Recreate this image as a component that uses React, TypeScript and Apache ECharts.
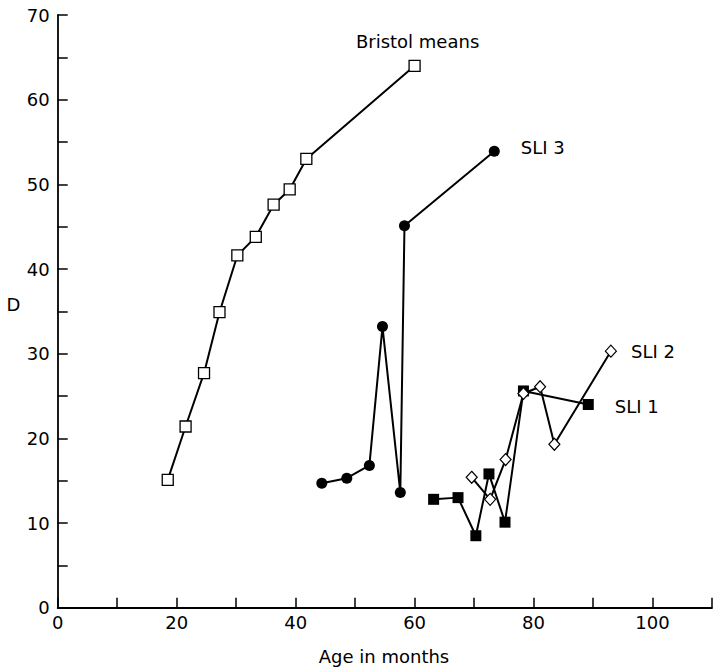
import React, { useEffect, useRef } from "react";
import * as echarts from "echarts";

const bristolAge = [18.5, 21.5, 24.6, 27.2, 30.2, 33.3, 36.3, 39.0, 41.8, 60.0];
const bristolD = [15.1, 21.4, 27.7, 34.9, 41.6, 43.8, 47.6, 49.4, 53.0, 64.0];

const sli3Age = [44.4, 48.6, 52.4, 54.6, 57.6, 58.3, 73.4];
const sli3D = [14.7, 15.3, 16.8, 33.2, 13.6, 45.1, 53.9];

const sli1Age = [63.2, 67.3, 70.3, 72.5, 75.2, 78.3, 89.2];
const sli1D = [12.8, 13.0, 8.5, 15.8, 10.1, 25.6, 24.0];

const sli2Age = [69.6, 72.7, 75.3, 78.3, 81.1, 83.5, 93.0];
const sli2D = [15.4, 12.8, 17.5, 25.3, 26.1, 19.3, 30.3];

const seriesNames = ["Bristol means", "SLI 3", "SLI 1", "SLI 2"];
const xTickLabels = [0, 20, 40, 60, 80, 100];
const yTickLabels = [0, 10, 20, 30, 40, 50, 60, 70];

const FONT = "'DejaVu Sans', 'Liberation Sans', Arial, sans-serif";
const FS = 18;

function build(
  ages: number[],
  ds: number[],
  name: string,
  labelPos: any,
  labelDist: number,
  labelOffset: number[]
) {
  return ages.map((a, i) => {
    const item: any = { value: [a, ds[i]] };
    if (i === ages.length - 1) {
      item.label = {
        show: true,
        position: labelPos,
        distance: labelDist,
        offset: labelOffset,
        formatter: name,
        color: "#000",
        fontFamily: FONT,
        fontSize: FS,
      };
    }
    return item;
  });
}

export default function App() {
  const ref = useRef<HTMLDivElement>(null);
  useEffect(() => {
    if (!ref.current) return;
    const chart = echarts.init(ref.current, undefined, { renderer: "svg" });
    const lineStyle = { color: "#000", width: 2 };
    chart.setOption({
      animation: false,
      backgroundColor: "#fff",
      grid: { left: 57.7, top: 15, width: 661.8, height: 592.7, containLabel: false },
      xAxis: {
        type: "value",
        min: 0,
        max: 110,
        interval: 10,
        axisLine: { show: true, lineStyle: { color: "#000", width: 1.8 } },
        axisTick: { show: true, inside: true, length: 10, lineStyle: { color: "#000", width: 1.5 } },
        splitLine: { show: false },
        axisLabel: {
          color: "#000",
          fontFamily: FONT,
          fontSize: FS,
          margin: 6,
          formatter: (v: number) => (xTickLabels.indexOf(v) >= 0 ? String(v) : ""),
        },
      },
      yAxis: {
        type: "value",
        min: 0,
        max: 70,
        interval: 5,
        axisLine: { show: true, lineStyle: { color: "#000", width: 1.8 } },
        axisTick: { show: true, inside: true, length: 10, lineStyle: { color: "#000", width: 1.5 } },
        splitLine: { show: false },
        axisLabel: {
          color: "#000",
          fontFamily: FONT,
          fontSize: FS,
          margin: 8,
          formatter: (v: number) => (yTickLabels.indexOf(v) >= 0 ? String(v) : ""),
        },
      },
      graphic: [
        {
          type: "text",
          left: 6.5,
          top: 295,
          style: { text: "D", fill: "#000", font: `${FS}px ${FONT}` },
        },
        {
          type: "text",
          x: 384,
          y: 656,
          style: {
            text: "Age in months",
            fill: "#000",
            font: `${FS}px ${FONT}`,
            textAlign: "center",
            textVerticalAlign: "middle",
          },
        },
      ],
      series: [
        {
          name: seriesNames[0],
          type: "line",
          data: build(bristolAge, bristolD, seriesNames[0], "top", 9, [3, 0]),
          symbol: "rect",
          symbolSize: 11,
          lineStyle,
          itemStyle: { color: "#fff", borderColor: "#000", borderWidth: 1.3 },
          z: 3,
        },
        {
          name: seriesNames[1],
          type: "line",
          data: build(sli3Age, sli3D, seriesNames[1], "right", 21, [0, -4]),
          symbol: "circle",
          symbolSize: 11,
          lineStyle,
          itemStyle: { color: "#000", borderColor: "#000", borderWidth: 0 },
          z: 3,
        },
        {
          name: seriesNames[2],
          type: "line",
          data: build(sli1Age, sli1D, seriesNames[2], "right", 21, [0, 2]),
          symbol: "rect",
          symbolSize: 11,
          lineStyle,
          itemStyle: { color: "#000", borderColor: "#000", borderWidth: 0 },
          z: 3,
        },
        {
          name: seriesNames[3],
          type: "line",
          data: build(sli2Age, sli2D, seriesNames[3], "right", 14, [0, 0]),
          symbol: "diamond",
          symbolSize: [11, 12],
          lineStyle,
          itemStyle: { color: "#fff", borderColor: "#000", borderWidth: 1.2 },
          z: 4,
        },
      ],
    });
    return () => chart.dispose();
  }, []);
  return (
    <div
      ref={ref}
      style={{ position: "absolute", left: 0, top: 0, width: 715, height: 671, overflow: "hidden" }}
    />
  );
}
